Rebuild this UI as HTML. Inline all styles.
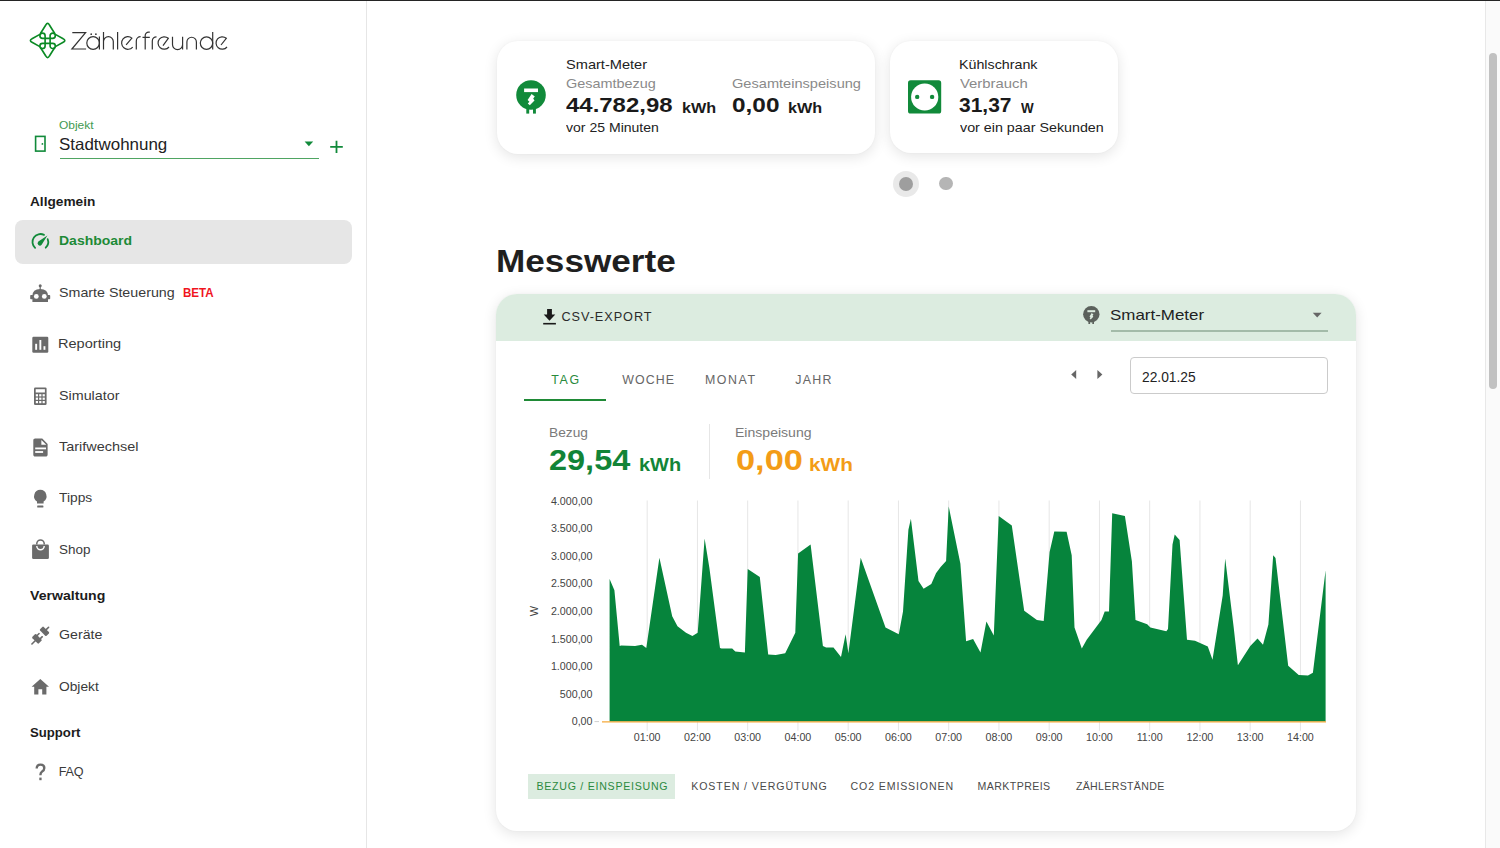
<!DOCTYPE html>
<html><head><meta charset="utf-8"><title>Zählerfreunde Dashboard</title>
<style>
html,body{margin:0;padding:0;background:#fff;}
body{width:1500px;height:848px;overflow:hidden;position:relative;font-family:"Liberation Sans",sans-serif;}
.abs{position:absolute;}
.t{position:absolute;white-space:nowrap;line-height:1;}
.t{font-family:"Liberation Sans",sans-serif;}
.logo{font-size:24.6px;color:#383838;letter-spacing:0.45px;-webkit-text-stroke:0.45px #fff;paint-order:normal;}
.card{position:absolute;background:#fff;border-radius:21px;box-shadow:0 3px 14px rgba(0,0,0,0.11),0 0 2px rgba(0,0,0,0.04);}
.ax{font-family:"Liberation Sans",sans-serif;font-size:10.7px;fill:#444;}
</style></head><body>
<div class="abs" style="left:0;top:0;width:1500px;height:1px;background:#242424"></div>
<div class="abs" style="left:366px;top:1px;width:1px;height:847px;background:#e6e6e6"></div>

<!-- logo -->
<svg class="abs" style="left:28px;top:21px" width="40" height="40" viewBox="28 21 40 40">
 <g fill="none" stroke="#0b8a24" stroke-width="1.65" stroke-linejoin="round" stroke-linecap="round">
  <path d="M47.6,23.4 Q48.6,23.4 49.4,25 L54.6,33.2 M47.6,23.4 Q46.6,23.4 45.8,25 L40.6,33.2"/>
  <path d="M47.6,57.6 Q48.6,57.6 49.4,56 L54.6,47.8 M47.6,57.6 Q46.6,57.6 45.8,56 L40.6,47.8"/>
  <path d="M30.4,40.5 Q30.4,39.5 32,38.7 L39.4,34.6 M30.4,40.5 Q30.4,41.5 32,42.3 L39.4,46.4"/>
  <path d="M64.8,40.5 Q64.8,39.5 63.2,38.7 L55.8,34.6 M64.8,40.5 Q64.8,41.5 63.2,42.3 L55.8,46.4"/>
  <path d="M45.1,45.9 V35.7 A2.6,2.6 0 1 0 42.5,38.3 H52.7 A2.6,2.6 0 1 0 50.1,35.7 V45.9 A2.6,2.6 0 1 0 52.7,43.3 H42.5 A2.6,2.6 0 1 0 45.1,45.9 Z"/>
 </g>
</svg>
<svg class="abs" style="left:68px;top:28px" width="166" height="26" viewBox="68 28 166 26">
 <g fill="none" stroke="#333" stroke-width="1.2">
  <path d="M72.3,32.7 H85.6 L71.9,49 H86.1"/>
  <circle cx="93.1" cy="43" r="6.3"/><path d="M99.4,36.4 V49.6"/>
  <path d="M103.5,32.1 V49.6 M103.5,41.6 A4.9,4.9 0 0 1 113.3,41.6 V49.6"/>
  <path d="M117.6,32.1 V49.6"/>
  <path d="M126.1,44.9 L131.9,38.1 A6.3,6.3 0 1 0 132.7,47.1"/>
  <path d="M136.3,49.6 V41 A4.3,4.3 0 0 1 140.6,36.7"/>
  <path d="M145.2,49.6 V35.6 A3.4,3.4 0 0 1 148.6,32.2 H149.8 M142.5,37.3 H149.8"/>
  <path d="M152.3,49.6 V41 A4.2,4.2 0 0 1 156.5,36.8"/>
  <path d="M163,45.6 L168.3,38.3 A6.2,6.2 0 1 0 169,47"/>
  <path d="M172.5,36.8 V44.5 A5.05,5.05 0 0 0 182.6,44.5 V36.8 M182.6,44 V49.6"/>
  <path d="M186.9,49.6 V42 A4.75,4.75 0 0 1 196.4,42 V49.6"/>
  <circle cx="206.5" cy="43.1" r="6.2"/><path d="M212.7,32.1 V49.6"/>
  <path d="M221,45 L226.3,38.3 A6.2,6.2 0 1 0 227,47"/>
 </g>
 <circle cx="91.2" cy="34.2" r="0.85" fill="#333"/><circle cx="95.9" cy="34.2" r="0.85" fill="#333"/>
</svg>

<!-- door icon -->
<svg class="abs" style="left:33px;top:134px" width="15" height="20" viewBox="0 0 15 20">
 <rect x="2.6" y="2.4" width="9.4" height="14.7" fill="none" stroke="#118a3a" stroke-width="1.6"/>
 <circle cx="9.4" cy="9.9" r="0.9" fill="#118a3a"/>
</svg>
<!-- select arrow -->
<svg class="abs" style="left:303px;top:140px" width="12" height="8" viewBox="0 0 12 8"><path d="M1.6,1.6 H10.2 L5.9,6.2 Z" fill="#118a3a"/></svg>
<div class="abs" style="left:59.7px;top:157.6px;width:259.6px;height:1.4px;background:#4fa562"></div>
<!-- plus -->
<svg class="abs" style="left:328px;top:139px" width="17" height="16" viewBox="0 0 17 16"><path d="M8.5,1.8 V14 M2.2,7.9 H14.8" stroke="#118a3a" stroke-width="1.8"/></svg>

<!-- nav highlight -->
<div class="abs" style="left:15px;top:220px;width:337px;height:43.5px;background:#e6e6e6;border-radius:8px"></div>

<!-- dashboard gauge -->
<svg class="abs" style="left:30px;top:232px" width="21" height="19" viewBox="30 232 21 19">
 <path d="M35.1,247.8 A7.9,7.9 0 0 1 44.0,234.9 M47.7,239.2 A7.9,7.9 0 0 1 45.7,247.7" fill="none" stroke="#118a3a" stroke-width="1.8" stroke-linecap="round"/>
 <path d="M47.4,235.5 L41.66,244.79 A2.3,2.3 0 1 1 38.34,241.61 Z" fill="#118a3a"/>
</svg>

<!-- robot -->
<svg class="abs" style="left:29px;top:283px" width="23" height="21" viewBox="29 283 23 21">
 <g fill="#6b6b6b">
  <circle cx="40.2" cy="285.8" r="1.5"/>
  <rect x="39.6" y="286" width="1.2" height="4"/>
  <path d="M32.4,301.9 V296 Q32.4,289.1 40.2,289.1 Q48,289.1 48,296 V301.9 Z"/>
  <rect x="30.2" y="295" width="3" height="4.3" rx="0.8"/>
  <rect x="47.2" y="295" width="3" height="4.3" rx="0.8"/>
 </g>
 <circle cx="36.3" cy="296.4" r="2.4" fill="#fff"/>
 <circle cx="44.3" cy="296.4" r="2.4" fill="#fff"/>
</svg>

<!-- reporting -->
<svg class="abs" style="left:31px;top:335px" width="19" height="19" viewBox="31 335 19 19">
 <rect x="32.3" y="336.7" width="16" height="16" rx="1.2" fill="#6b6b6b"/>
 <rect x="35.2" y="343.8" width="1.9" height="6" fill="#fff"/>
 <rect x="39.4" y="340" width="1.9" height="9.8" fill="#fff"/>
 <rect x="43.5" y="346.2" width="1.9" height="3.6" fill="#fff"/>
</svg>

<!-- simulator (calculator) -->
<svg class="abs" style="left:33px;top:386px" width="15" height="21" viewBox="33 386 15 21">
 <rect x="34" y="387.4" width="12.6" height="17.6" rx="1.3" fill="#6b6b6b"/>
 <rect x="35.7" y="389.2" width="9.2" height="3.3" fill="#fff"/>
 <g fill="#fff">
  <rect x="35.8" y="394.2" width="2.2" height="2.2"/><rect x="39.2" y="394.2" width="2.2" height="2.2"/><rect x="42.6" y="394.2" width="2.2" height="2.2"/>
  <rect x="35.8" y="397.6" width="2.2" height="2.2"/><rect x="39.2" y="397.6" width="2.2" height="2.2"/><rect x="42.6" y="397.6" width="2.2" height="2.2"/>
  <rect x="35.8" y="401" width="2.2" height="2.2"/><rect x="39.2" y="401" width="2.2" height="2.2"/><rect x="42.6" y="401" width="2.2" height="2.2"/>
 </g>
</svg>

<!-- tarifwechsel (document) -->
<svg class="abs" style="left:32px;top:437px" width="17" height="21" viewBox="32 437 17 21">
 <path fill="#6b6b6b" transform="translate(29.72,436.81) scale(0.895)" d="M14 2H6c-1.1 0-1.99.9-1.99 2L4 20c0 1.1.89 2 1.99 2H18c1.1 0 2-.9 2-2V8l-6-6zm-1 7V3.5L18.5 9H13z"/>
 <rect x="35.2" y="447.5" width="10.8" height="1.8" fill="#fff"/><rect x="35.2" y="451.1" width="7.9" height="1.8" fill="#fff"/>
</svg>

<!-- tipps (bulb) -->
<svg class="abs" style="left:33px;top:489px" width="15" height="20" viewBox="33 489 15 20">
 <path d="M40.3,489.8 A6.3,6.3 0 0 1 43.6,501.4 V503.6 H37 V501.4 A6.3,6.3 0 0 1 40.3,489.8 Z" fill="#6b6b6b"/>
 <rect x="37.2" y="505.6" width="6.2" height="1.9" rx="0.5" fill="#6b6b6b"/>
</svg>

<!-- shop (bag) -->
<svg class="abs" style="left:31px;top:539px" width="20" height="21" viewBox="31 539 20 21">
 <path d="M33.4,544.5 H47.6 Q48.9,544.5 48.9,545.8 V557.7 Q48.9,559 47.6,559 H33.4 Q32.1,559 32.1,557.7 V545.8 Q32.1,544.5 33.4,544.5 Z" fill="#6b6b6b"/>
 <path d="M36.8,544.5 V543.6 A3.7,3.7 0 0 1 44.2,543.6 V544.5" fill="none" stroke="#6b6b6b" stroke-width="1.5"/>
 <path d="M36.8,546.1 A3.7,3.7 0 0 0 44.2,546.1" fill="none" stroke="#fff" stroke-width="1.4"/>
</svg>

<!-- geraete (plug) -->
<svg class="abs" style="left:28px;top:622px" width="25" height="26" viewBox="28 622 25 26">
 <g fill="#6b6b6b" transform="rotate(45 40.3 635.5)">
  <rect x="39.55" y="623" width="1.6" height="5" rx="0.8"/>
  <rect x="35.7" y="627" width="9.2" height="5.2" rx="1"/>
  <rect x="37.25" y="634.3" width="1.6" height="4" rx="0.6"/>
  <rect x="41.75" y="634.3" width="1.6" height="4" rx="0.6"/>
  <rect x="35.7" y="637.5" width="9.2" height="5.5" rx="1"/>
  <rect x="39.55" y="642" width="1.6" height="6.2" rx="0.8"/>
 </g>
</svg>

<!-- objekt (home) -->
<svg class="abs" style="left:30px;top:677px" width="21" height="19" viewBox="30 677 21 19">
 <path d="M40.3,679 L49,686.8 H46.4 V694.4 H42.2 V689.3 H38.4 V694.4 H34.2 V686.8 H31.6 Z" fill="#6b6b6b"/>
</svg>

<!-- faq -->
<svg class="abs" style="left:33px;top:762px" width="15" height="21" viewBox="33 762 15 21">
 <path d="M36.7,768.6 Q36.7,764.6 40.5,764.6 Q44.3,764.6 44.3,767.9 Q44.3,770.1 42.1,771.5 Q40.4,772.6 40.4,775.2" fill="none" stroke="#6b6b6b" stroke-width="2.4"/>
 <rect x="39.3" y="777.6" width="2.3" height="2.6" fill="#6b6b6b"/>
</svg>

<!-- card 1 -->
<div class="card" style="left:496.6px;top:40.7px;width:378.4px;height:113px"></div>
<svg class="abs" style="left:514px;top:78px" width="35" height="38" viewBox="514 78 35 38">
 <circle cx="531" cy="95" r="14.8" fill="#118a3a"/>
 <rect x="526.3" y="106" width="2.9" height="7.6" fill="#118a3a"/>
 <rect x="533" y="106" width="2.9" height="7.6" fill="#118a3a"/>
 <rect x="524.1" y="88.5" width="13.9" height="3.6" fill="#fff"/>
 <path d="M531.6,93.9 L534.8,96.6 L533.2,98.4 L534.5,100.4 L529.8,105.3 L527.8,103.4 L529.4,101.7 L527.6,100.1 Z" fill="#fff"/>
</svg>
<!-- card 2 -->
<div class="card" style="left:890px;top:41px;width:228.2px;height:112.3px"></div>
<svg class="abs" style="left:906px;top:78px" width="38" height="38" viewBox="906 78 38 38">
 <rect x="908" y="80.3" width="33.2" height="33.3" rx="2.6" fill="#118a3a"/>
 <circle cx="924.7" cy="97" r="13.6" fill="#fff"/>
 <circle cx="917.2" cy="96.9" r="2.2" fill="#118a3a"/>
 <circle cx="932.1" cy="96.9" r="2.2" fill="#118a3a"/>
</svg>
<!-- dots -->
<div class="abs" style="left:893px;top:170.5px;width:26px;height:26px;border-radius:50%;background:#e9e9e9"></div>
<div class="abs" style="left:899px;top:176.5px;width:14px;height:14px;border-radius:50%;background:#9e9e9e"></div>
<div class="abs" style="left:939.3px;top:176.6px;width:13.8px;height:13.8px;border-radius:50%;background:#b5b5b5"></div>

<!-- big card -->
<div class="card" style="left:496px;top:293.7px;width:859.6px;height:537.1px;overflow:hidden">
  <div style="position:absolute;left:0;top:0;right:0;height:47px;background:#dcece0"></div>
</div>
<!-- download icon -->
<svg class="abs" style="left:541px;top:307px" width="17" height="19" viewBox="541 307 17 19">
 <path d="M547.1,309.1 H551.9 V314.5 H555.3 L549.5,320.7 L543.7,314.5 H547.1 Z" fill="#1a1a1a"/>
 <rect x="543.2" y="322.9" width="12.7" height="1.6" fill="#1a1a1a"/>
</svg>
<!-- meter gray -->
<svg class="abs" style="left:1081px;top:304px" width="21" height="22" viewBox="1081 304 21 22">
 <circle cx="1091.3" cy="314.3" r="8.2" fill="#5b615c"/>
 <rect x="1088.4" y="320" width="1.7" height="4" fill="#5b615c"/>
 <rect x="1092.3" y="320" width="1.7" height="4" fill="#5b615c"/>
 <rect x="1087.4" y="310.2" width="7.8" height="2" fill="#dcebdf"/>
 <path d="M1091.7,313.1 L1093.5,314.6 L1092.6,315.6 L1093.3,316.7 L1090.7,319.4 L1089.6,318.3 L1090.5,317.4 L1089.5,316.5 Z" fill="#dcebdf"/>
</svg>
<svg class="abs" style="left:1311px;top:311px" width="12" height="8" viewBox="0 0 12 8"><path d="M1.8,1.8 H10.6 L6.2,6.5 Z" fill="#666"/></svg>
<div class="abs" style="left:1111px;top:330.2px;width:217px;height:1.5px;background:#a3bba9"></div>
<!-- tab underline -->
<div class="abs" style="left:524px;top:399.4px;width:82.4px;height:2px;background:#1f8a36"></div>
<!-- arrows -->
<svg class="abs" style="left:1068px;top:367px" width="40" height="15" viewBox="1068 367 40 15">
 <path d="M1076.2,369.9 V379 L1071.2,374.45 Z" fill="#666"/>
 <path d="M1097.4,369.9 V379 L1102.4,374.45 Z" fill="#666"/>
</svg>
<div class="abs" style="left:1130.4px;top:357.2px;width:195.6px;height:35.2px;border:1px solid #cbcbcb;border-radius:4px"></div>
<!-- divider -->
<div class="abs" style="left:708.6px;top:423.8px;width:1px;height:55px;background:#e6e6e6"></div>
<!-- bottom active tab -->
<div class="abs" style="left:528.1px;top:774px;width:147.2px;height:24.7px;background:#dcece0"></div>

<svg class="abs" style="left:0;top:0" width="1500" height="848" viewBox="0 0 1500 848"><line x1="647.20" y1="500.5" x2="647.20" y2="730.8" stroke="#e6e6e6" stroke-width="1"/>
<line x1="697.45" y1="500.5" x2="697.45" y2="730.8" stroke="#e6e6e6" stroke-width="1"/>
<line x1="747.70" y1="500.5" x2="747.70" y2="730.8" stroke="#e6e6e6" stroke-width="1"/>
<line x1="797.95" y1="500.5" x2="797.95" y2="730.8" stroke="#e6e6e6" stroke-width="1"/>
<line x1="848.20" y1="500.5" x2="848.20" y2="730.8" stroke="#e6e6e6" stroke-width="1"/>
<line x1="898.45" y1="500.5" x2="898.45" y2="730.8" stroke="#e6e6e6" stroke-width="1"/>
<line x1="948.70" y1="500.5" x2="948.70" y2="730.8" stroke="#e6e6e6" stroke-width="1"/>
<line x1="998.95" y1="500.5" x2="998.95" y2="730.8" stroke="#e6e6e6" stroke-width="1"/>
<line x1="1049.20" y1="500.5" x2="1049.20" y2="730.8" stroke="#e6e6e6" stroke-width="1"/>
<line x1="1099.45" y1="500.5" x2="1099.45" y2="730.8" stroke="#e6e6e6" stroke-width="1"/>
<line x1="1149.70" y1="500.5" x2="1149.70" y2="730.8" stroke="#e6e6e6" stroke-width="1"/>
<line x1="1199.95" y1="500.5" x2="1199.95" y2="730.8" stroke="#e6e6e6" stroke-width="1"/>
<line x1="1250.20" y1="500.5" x2="1250.20" y2="730.8" stroke="#e6e6e6" stroke-width="1"/>
<line x1="1300.45" y1="500.5" x2="1300.45" y2="730.8" stroke="#e6e6e6" stroke-width="1"/>
<path d="M609.6,721.6 L609.6,579 L614.4,590.2 L619.7,646.1 L621.2,645.4 L635,645.9 L642,644.8 L646.3,648 L659.4,557.7 L672.2,616.3 L677.5,626.3 L686,632.7 L692.4,635.9 L697.7,632.7 L704.6,538.6 L709.4,568 L720,648 L721.5,648.6 L732.2,648.6 L735.3,651.4 L744.9,652.4 L747.7,569 L759.8,576.9 L768.2,654.6 L775.7,655 L785.2,653.3 L795.3,632.7 L798.1,553.5 L810.6,544.6 L822.9,646.1 L826.1,647.6 L833.5,647.6 L841,657.1 L845.6,634.2 L848.4,653.3 L860.7,557.7 L885.5,627.4 L898.8,634.2 L903,611.5 L908.4,529.7 L910.9,518.7 L918.5,581.1 L923.6,588.7 L931.3,583.9 L936,573.2 L940.6,566.9 L946.1,561.1 L948.7,506.4 L960.4,563.7 L966.1,641.2 L973.1,639.1 L980.5,652.4 L986.4,621.4 L993.8,635.5 L998.7,515.9 L1011.8,525.5 L1024.2,610.8 L1036.9,620 L1043.7,621 L1049.6,552 L1054.3,531.4 L1066.6,531.8 L1071.7,555.2 L1074.5,627.4 L1081.8,648.6 L1086.7,639.7 L1101.5,620 L1104.7,611.5 L1109,611.5 L1112.2,513.2 L1124.9,515.9 L1131.9,561.6 L1135.5,620 L1147.2,624.2 L1150.4,627.4 L1166.3,631.2 L1168,629 L1172.5,544.6 L1174.7,534.4 L1179.6,539.9 L1187,639.7 L1195,640.8 L1207.8,646.5 L1212.5,659.7 L1222.7,595.5 L1225.2,558.4 L1233.7,627.4 L1237.9,665.2 L1250.3,646.1 L1257.5,638.4 L1263,644.8 L1268.4,624.6 L1273.2,555.2 L1275.5,558 L1288.2,665.7 L1298.7,675 L1308,675.6 L1312.9,672.8 L1325.6,570.3 L1325.6,721.6 Z" fill="#06843c"/>
<line x1="602" y1="721.8000000000001" x2="1326" y2="721.8000000000001" stroke="#f5a93a" stroke-width="1.3"/>
<line x1="594.5" y1="721.6" x2="599" y2="721.6" stroke="#cfcfcf" stroke-width="1"/>
<text x="592.5" y="504.6" text-anchor="end" class="ax">4.000,00</text>
<text x="592.5" y="532.2" text-anchor="end" class="ax">3.500,00</text>
<text x="592.5" y="559.8" text-anchor="end" class="ax">3.000,00</text>
<text x="592.5" y="587.4" text-anchor="end" class="ax">2.500,00</text>
<text x="592.5" y="615.0" text-anchor="end" class="ax">2.000,00</text>
<text x="592.5" y="642.6" text-anchor="end" class="ax">1.500,00</text>
<text x="592.5" y="670.2" text-anchor="end" class="ax">1.000,00</text>
<text x="592.5" y="697.8" text-anchor="end" class="ax">500,00</text>
<text x="592.5" y="725.4" text-anchor="end" class="ax">0,00</text>
<text x="647.20" y="740.8" text-anchor="middle" class="ax">01:00</text>
<text x="697.45" y="740.8" text-anchor="middle" class="ax">02:00</text>
<text x="747.70" y="740.8" text-anchor="middle" class="ax">03:00</text>
<text x="797.95" y="740.8" text-anchor="middle" class="ax">04:00</text>
<text x="848.20" y="740.8" text-anchor="middle" class="ax">05:00</text>
<text x="898.45" y="740.8" text-anchor="middle" class="ax">06:00</text>
<text x="948.70" y="740.8" text-anchor="middle" class="ax">07:00</text>
<text x="998.95" y="740.8" text-anchor="middle" class="ax">08:00</text>
<text x="1049.20" y="740.8" text-anchor="middle" class="ax">09:00</text>
<text x="1099.45" y="740.8" text-anchor="middle" class="ax">10:00</text>
<text x="1149.70" y="740.8" text-anchor="middle" class="ax">11:00</text>
<text x="1199.95" y="740.8" text-anchor="middle" class="ax">12:00</text>
<text x="1250.20" y="740.8" text-anchor="middle" class="ax">13:00</text>
<text x="1300.45" y="740.8" text-anchor="middle" class="ax">14:00</text>
<text x="0" y="0" class="ax" transform="translate(537.8,611) rotate(-90)" text-anchor="middle" style="font-size:11px">W</text></svg>
<div class="t" style="left:59.26px;top:119.6px;font-size:11.5px;font-weight:400;color:#3f9a52;transform:scaleX(1.0406);transform-origin:0 0;">Objekt</div>
<div class="t" style="left:59.26px;top:136.4px;font-size:16.5px;font-weight:400;color:#222;transform:scaleX(1.0260);transform-origin:0 0;">Stadtwohnung</div>
<div class="t" style="left:30.20px;top:196.0px;font-size:12.8px;font-weight:700;color:#1c1c1c;transform:scaleX(1.0681);transform-origin:0 0;">Allgemein</div>
<div class="t" style="left:59.34px;top:234.9px;font-size:12.8px;font-weight:700;color:#1d8a36;transform:scaleX(1.0939);transform-origin:0 0;">Dashboard</div>
<div class="t" style="left:59.12px;top:286.7px;font-size:12.6px;font-weight:400;color:#3a3a3a;transform:scaleX(1.1317);transform-origin:0 0;">Smarte Steuerung</div>
<div class="t" style="left:183.12px;top:286.7px;font-size:12.6px;font-weight:700;color:#f0141e;transform:scaleX(0.9197);transform-origin:0 0;">BETA</div>
<div class="t" style="left:58.32px;top:338.1px;font-size:12.6px;font-weight:400;color:#3a3a3a;transform:scaleX(1.1562);transform-origin:0 0;">Reporting</div>
<div class="t" style="left:59.34px;top:389.5px;font-size:12.6px;font-weight:400;color:#3a3a3a;transform:scaleX(1.1364);transform-origin:0 0;">Simulator</div>
<div class="t" style="left:59.34px;top:441.0px;font-size:12.6px;font-weight:400;color:#3a3a3a;transform:scaleX(1.1478);transform-origin:0 0;">Tarifwechsel</div>
<div class="t" style="left:59.34px;top:492.4px;font-size:12.6px;font-weight:400;color:#3a3a3a;transform:scaleX(1.0940);transform-origin:0 0;">Tipps</div>
<div class="t" style="left:59.34px;top:544.0px;font-size:12.6px;font-weight:400;color:#3a3a3a;transform:scaleX(1.0693);transform-origin:0 0;">Shop</div>
<div class="t" style="left:30.34px;top:589.7px;font-size:12.8px;font-weight:700;color:#1c1c1c;transform:scaleX(1.1025);transform-origin:0 0;">Verwaltung</div>
<div class="t" style="left:59.34px;top:629.1px;font-size:12.6px;font-weight:400;color:#3a3a3a;transform:scaleX(1.1268);transform-origin:0 0;">Geräte</div>
<div class="t" style="left:59.34px;top:680.6px;font-size:12.6px;font-weight:400;color:#3a3a3a;transform:scaleX(1.0916);transform-origin:0 0;">Objekt</div>
<div class="t" style="left:30.20px;top:726.8px;font-size:12.8px;font-weight:700;color:#1c1c1c;transform:scaleX(1.0272);transform-origin:0 0;">Support</div>
<div class="t" style="left:58.76px;top:766.3px;font-size:12.6px;font-weight:400;color:#3a3a3a;letter-spacing:-0.242px;">FAQ</div>
<div class="t" style="left:566.26px;top:58.8px;font-size:12.7px;font-weight:400;color:#222;transform:scaleX(1.1504);transform-origin:0 0;">Smart-Meter</div>
<div class="t" style="left:566.26px;top:77.8px;font-size:12.7px;font-weight:400;color:#8a8a8a;transform:scaleX(1.1380);transform-origin:0 0;">Gesamtbezug</div>
<div class="t" style="left:566.34px;top:95.0px;font-size:20.8px;font-weight:700;color:#1a1a1a;transform:scaleX(1.1512);transform-origin:0 0;">44.782,98</div>
<div class="t" style="left:681.58px;top:100.7px;font-size:14.2px;font-weight:700;color:#1a1a1a;transform:scaleX(1.1418);transform-origin:0 0;">kWh</div>
<div class="t" style="left:731.62px;top:77.8px;font-size:12.7px;font-weight:400;color:#8a8a8a;transform:scaleX(1.1502);transform-origin:0 0;">Gesamteinspeisung</div>
<div class="t" style="left:732.18px;top:95.0px;font-size:20.8px;font-weight:700;color:#1a1a1a;transform:scaleX(1.1723);transform-origin:0 0;">0,00</div>
<div class="t" style="left:787.56px;top:100.7px;font-size:14.2px;font-weight:700;color:#1a1a1a;transform:scaleX(1.1418);transform-origin:0 0;">kWh</div>
<div class="t" style="left:566.26px;top:122.4px;font-size:12.7px;font-weight:400;color:#222;transform:scaleX(1.1068);transform-origin:0 0;">vor 25 Minuten</div>
<div class="t" style="left:959.04px;top:58.7px;font-size:12.7px;font-weight:400;color:#222;transform:scaleX(1.1239);transform-origin:0 0;">Kühlschrank</div>
<div class="t" style="left:959.84px;top:77.8px;font-size:12.7px;font-weight:400;color:#8a8a8a;transform:scaleX(1.1714);transform-origin:0 0;">Verbrauch</div>
<div class="t" style="left:959.36px;top:95.1px;font-size:20.8px;font-weight:700;color:#1a1a1a;transform:scaleX(1.0087);transform-origin:0 0;">31,37</div>
<div class="t" style="left:1021.26px;top:100.7px;font-size:14.2px;font-weight:700;color:#1a1a1a;transform:scaleX(0.9473);transform-origin:0 0;">W</div>
<div class="t" style="left:959.84px;top:122.4px;font-size:12.7px;font-weight:400;color:#222;transform:scaleX(1.1260);transform-origin:0 0;">vor ein paar Sekunden</div>
<div class="t" style="left:495.78px;top:245.6px;font-size:31.7px;font-weight:700;color:#1f1f1f;transform:scaleX(1.1097);transform-origin:0 0;">Messwerte</div>
<div class="t" style="left:561.40px;top:310.7px;font-size:12.7px;font-weight:400;color:#2b2b2b;letter-spacing:0.962px;">CSV-EXPORT</div>
<div class="t" style="left:1110.40px;top:308.1px;font-size:14.8px;font-weight:400;color:#222;transform:scaleX(1.1448);transform-origin:0 0;">Smart-Meter</div>
<div class="t" style="left:551.34px;top:373.5px;font-size:12.4px;font-weight:400;color:#2a8a3c;letter-spacing:1.579px;">TAG</div>
<div class="t" style="left:622.28px;top:373.5px;font-size:12.4px;font-weight:400;color:#666;letter-spacing:1.070px;">WOCHE</div>
<div class="t" style="left:704.90px;top:373.5px;font-size:12.4px;font-weight:400;color:#666;letter-spacing:1.598px;">MONAT</div>
<div class="t" style="left:795.34px;top:373.5px;font-size:12.4px;font-weight:400;color:#666;letter-spacing:1.240px;">JAHR</div>
<div class="t" style="left:1142.12px;top:368.7px;font-size:15.0px;font-weight:400;color:#222;transform:scaleX(0.9193);transform-origin:0 0;">22.01.25</div>
<div class="t" style="left:548.82px;top:426.6px;font-size:12.7px;font-weight:400;color:#7a7a7a;transform:scaleX(1.0816);transform-origin:0 0;">Bezug</div>
<div class="t" style="left:548.58px;top:446.4px;font-size:29.2px;font-weight:700;color:#128437;transform:scaleX(1.1124);transform-origin:0 0;">29,54</div>
<div class="t" style="left:639.42px;top:455.0px;font-size:19.0px;font-weight:700;color:#128437;transform:scaleX(1.0506);transform-origin:0 0;">kWh</div>
<div class="t" style="left:735.10px;top:426.6px;font-size:12.7px;font-weight:400;color:#7a7a7a;transform:scaleX(1.1076);transform-origin:0 0;">Einspeisung</div>
<div class="t" style="left:735.50px;top:446.4px;font-size:29.2px;font-weight:700;color:#f39c17;transform:scaleX(1.1765);transform-origin:0 0;">0,00</div>
<div class="t" style="left:809.44px;top:455.0px;font-size:19.0px;font-weight:700;color:#f39c17;transform:scaleX(1.0925);transform-origin:0 0;">kWh</div>
<div class="t" style="left:536.48px;top:781.4px;font-size:10.6px;font-weight:400;color:#2b8a3e;letter-spacing:0.741px;">BEZUG / EINSPEISUNG</div>
<div class="t" style="left:691.26px;top:781.4px;font-size:10.6px;font-weight:400;color:#4a4a4a;letter-spacing:0.908px;">KOSTEN / VERGÜTUNG</div>
<div class="t" style="left:850.62px;top:781.4px;font-size:10.6px;font-weight:400;color:#4a4a4a;letter-spacing:0.861px;">CO2 EMISSIONEN</div>
<div class="t" style="left:977.62px;top:781.4px;font-size:10.6px;font-weight:400;color:#4a4a4a;letter-spacing:0.403px;">MARKTPREIS</div>
<div class="t" style="left:1075.92px;top:781.4px;font-size:10.6px;font-weight:400;color:#4a4a4a;letter-spacing:0.325px;">ZÄHLERSTÄNDE</div>
<!-- scrollbar -->
<div class="abs" style="left:1485px;top:1px;width:15px;height:847px;background:#fafafa;border-left:1px solid #e8e8e8;box-sizing:border-box"></div>
<div class="abs" style="left:1489px;top:53px;width:8px;height:336px;background:#c1c1c1;border-radius:4px"></div>
</body></html>
